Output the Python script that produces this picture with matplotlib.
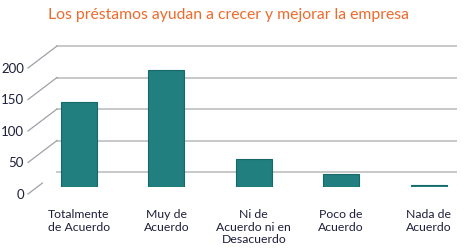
import matplotlib.pyplot as plt
from matplotlib import transforms
from matplotlib.lines import Line2D

categorias = ['Totalmente\nde Acuerdo', 'Muy de\nAcuerdo', 'Ni de\nAcuerdo ni en\nDesacuerdo',
              'Poco de\nAcuerdo', 'Nada de\nAcuerdo']
valores = [135, 186, 44, 20, 3]
ticks_y = [0, 50, 100, 150, 200]
titulo = 'Los préstamos ayudan a crecer y mejorar la empresa'

plt.rcParams['font.family'] = ['Lato', 'DejaVu Sans']

fig = plt.figure(figsize=(4.75, 2.53), dpi=100)
ax = fig.add_axes([28 / 475, 65 / 253, 429 / 475, 157.5 / 253])

x = list(range(len(categorias)))
ax.bar(x, valores, width=0.41, color='#217f80', edgecolor='#176868', linewidth=0.8, zorder=3)

ax.set_xlim(-0.5835, 4.325)
ax.set_ylim(0, 250)

# pared del fondo (desplazada) y lineas diagonales hacia las etiquetas
base = transforms.blended_transform_factory(ax.transAxes, ax.transData)
fondo = base + transforms.ScaledTranslation(0, 0.15, fig.dpi_scale_trans)
frente = base + transforms.ScaledTranslation(0, -0.07, fig.dpi_scale_trans)
x_fondo = 29 / 429

for v in ticks_y:
    ax.plot([x_fondo, 1], [v, v], color='#c4c4c4', lw=1.3, transform=fondo, zorder=1)
    p0 = frente.transform((0, v))
    p1 = fondo.transform((x_fondo, v))
    t = 0.5 if v == 0 else 1.0
    p1 = p0 + (p1 - p0) * t
    ax.add_line(Line2D([p0[0], p1[0]], [p0[1], p1[1]], color='#a0a0a8', lw=0.9,
                       transform=transforms.IdentityTransform(), zorder=1, clip_on=False))
    ax.text(-4 / 429, v, str(v), transform=frente, ha='right', va='center',
            fontsize=9.5, color='#1e1e3c')

ax.set_yticks([])
ax.set_xticks(x)
ax.set_xticklabels(categorias, fontsize=8.8, color='#1e1e3c', linespacing=1.2)
ax.tick_params(axis='x', length=0, pad=15)

for s in ax.spines.values():
    s.set_visible(False)

fig.text(229 / 475, 1 - 15 / 253, titulo, ha='center', va='center', fontsize=11.3, color='#ee6a2b')

fig.savefig('out.png', dpi=100)
